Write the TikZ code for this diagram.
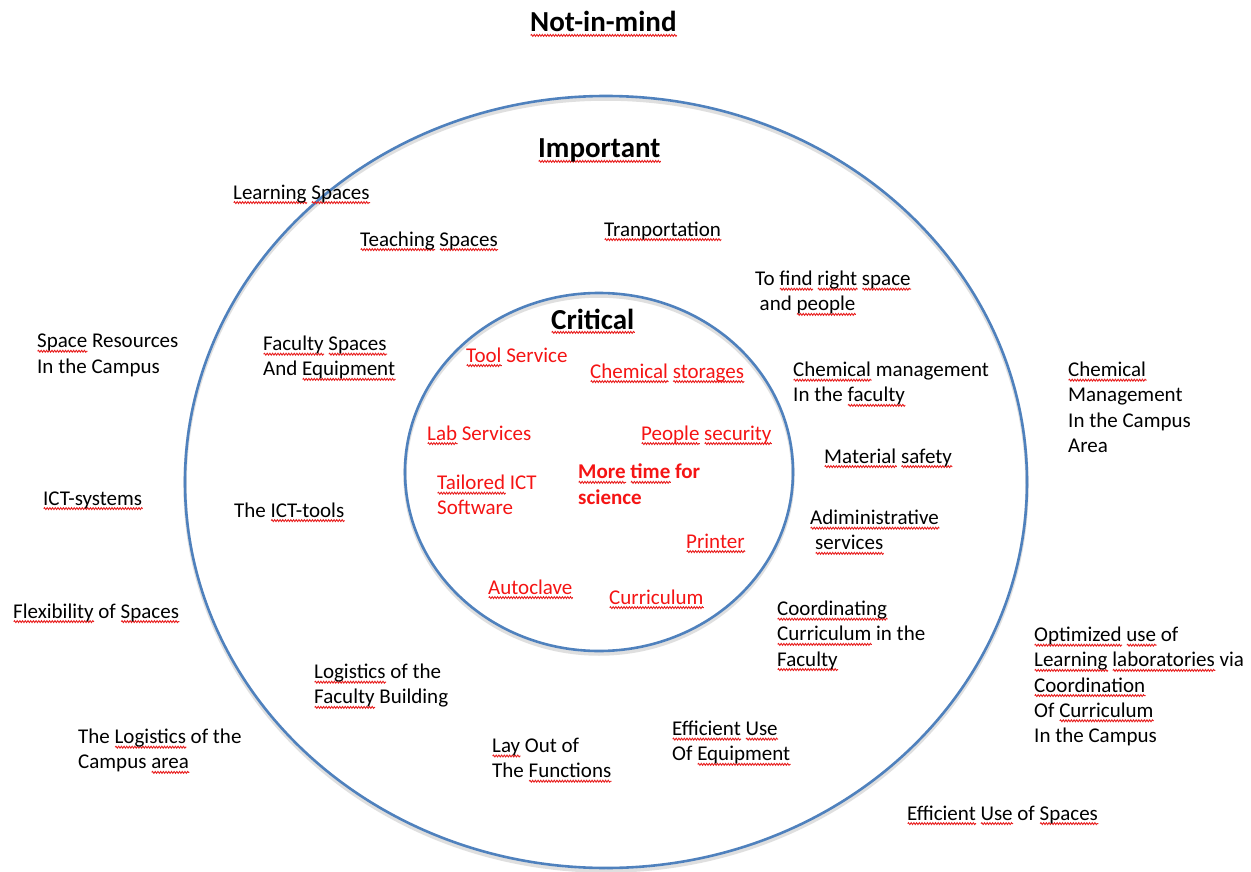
\documentclass[tikz,border=0pt]{standalone}
\usepackage{fontspec}
\setmainfont{Carlito}
\usetikzlibrary{decorations.pathmorphing}
\definecolor{ring}{RGB}{79,129,189}
\definecolor{txtred}{RGB}{245,20,20}
\definecolor{sqred}{RGB}{232,30,30}
\tikzset{
  sqline/.style={draw=sqred, line width=0.9pt, decorate,
    decoration={snake, amplitude=0.95pt, segment length=2.7pt}},
  lbl/.style={anchor=north west, inner sep=0pt, align=left,
    font=\fontsize{21}{25.2}\selectfont,
    execute at begin node={\rule{0pt}{17pt}}},
  redlbl/.style={lbl, text=txtred},
  title/.style={anchor=base west, inner sep=0pt, font=\bfseries\fontsize{29}{34}\selectfont},
  ringline/.style={draw=ring, line width=2.6pt},
  ringshadow/.style={draw=black!35, line width=3.5pt, opacity=0.35}
}
\newbox\sqbox
\newdimen\sqw
\newcommand\sq[1]{\leavevmode\setbox\sqbox=\hbox{#1}\sqw=\wd\sqbox\rlap{\tikz[baseline=0pt]\path[sqline] (0pt,-3.4pt) -- (\sqw,-3.4pt);}\box\sqbox}
\begin{document}
\begin{tikzpicture}[x=1pt,y=-1pt]
\useasboundingbox (0,0) rectangle (1251,872);
\fill[white] (0,0) rectangle (1251,872);
% rings
\draw[ringshadow] (606,485) ellipse [x radius=421, y radius=386];
\draw[ringline] (606,482) ellipse [x radius=421, y radius=386];
\draw[ringshadow] (599,475) ellipse [x radius=194, y radius=179];
\draw[ringline] (599,472) ellipse [x radius=194, y radius=179];
% titles
\node[title] (notinmind) at (530,32) {\sq{Not-in-mind}};
\node[title] (important) at (538,158) {\sq{Important}};
\node[title] (critical) at (551,329) {\sq{Critical}};
% important ring and outside (black)
\node[lbl] (learn) at (233,199-17) {\sq{Learning} \sq{Spaces}};
\node[lbl] (teach) at (360,246-17) {\sq{Teaching} \sq{Spaces}};
\node[lbl] (tran) at (604,236-17) {\sq{Tranportation}};
\node[lbl] (find) at (755,288-17) {To \sq{find} \sq{right} \sq{space}\\\hspace*{4.5pt}and \sq{people}};
\node[lbl] (facsp) at (263,353-17) {\sq{Faculty} \sq{Spaces}\\And \sq{Equipment}};
\node[lbl] (chemfac) at (793,379-17) {\sq{Chemical} management\\In the \sq{faculty}};
\node[lbl] (chemcamp) at (1068,379-17) {\sq{Chemical}\\Management\\In the Campus\\Area};
\node[lbl] (spres) at (37,351-17) {\sq{Space} Resources\\In the Campus};
\node[lbl] (ictsys) at (43,505-17) {\sq{ICT-systems}};
\node[lbl] (icttools) at (234,517-17) {The \sq{ICT-tools}};
\node[lbl] (mat) at (824,463-17) {\sq{Material} \sq{safety}};
\node[lbl] (admin) at (810,527-17) {\sq{Adiministrative}\\\hspace*{5pt}\sq{services}};
\node[lbl] (flex) at (13,618-17) {\sq{Flexibility} of \sq{Spaces}};
\node[lbl] (coord) at (777,618-17) {\sq{Coordinating}\\\sq{Curriculum} in the\\\sq{Faculty}};
\node[lbl] (opt) at (1034,644-17) {\sq{Optimized} \sq{use} of\\\sq{Learning} \sq{laboratories} via\\\sq{Coordination}\\Of \sq{Curriculum}\\In the Campus};
\node[lbl] (logfac) at (314,681-17) {\sq{Logistics} of the\\\sq{Faculty} Building};
\node[lbl] (logcamp) at (78,746-17) {The \sq{Logistics} of the\\Campus \sq{area}};
\node[lbl] (lay) at (492,755-17) {\sq{Lay} Out of\\The \sq{Functions}};
\node[lbl] (effeq) at (672,738-17) {\sq{Efficient} \sq{Use}\\Of \sq{Equipment}};
\node[lbl] (effsp) at (907,820-17) {\sq{Efficient} \sq{Use} of \sq{Spaces}};
% critical ring (red)
\node[redlbl] (tool) at (466,362-17) {\sq{Tool} Service};
\node[redlbl] (chst) at (590,378-17) {\sq{Chemical} \sq{storages}};
\node[redlbl] (lab) at (427,440-17) {\sq{Lab} Services};
\node[redlbl] (ppl) at (641,440-17) {\sq{People} \sq{security}};
\node[redlbl] (tail) at (437,492-17) {\sq{Tailored} ICT\\Software};
\node[redlbl, font=\bfseries\fontsize{21}{25.2}\selectfont] (more) at (578,481-17) {\sq{More} \sq{time} for\\science};
\node[redlbl] (print) at (686,548-17) {\sq{Printer}};
\node[redlbl] (auto) at (488,594-17) {\sq{Autoclave}};
\node[redlbl] (curr) at (609,604-17) {\sq{Curriculum}};
\end{tikzpicture}
\end{document}
